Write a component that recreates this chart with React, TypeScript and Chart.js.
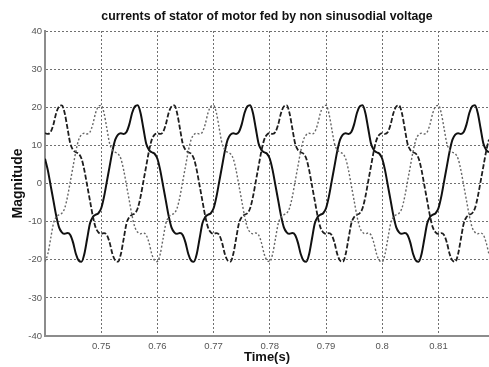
import { useEffect, useRef } from "react";
import { Chart, registerables } from "chart.js";

Chart.register(...registerables);

const TITLE = "currents of stator of motor fed by non sinusodial voltage";
const X_LABEL = "Time(s)";
const Y_LABEL = "Magnitude";

// sampling grid of the recorded currents (s)
const T_START = 0.74;
const T_STEP = 0.0005;

const X_MIN = 0.74;
const X_MAX = 0.819;
const X_TICKS = [0.75, 0.76, 0.77, 0.78, 0.79, 0.8, 0.81];
const X_TICK_LABELS = ["0.75", "0.76", "0.77", "0.78", "0.79", "0.8", "0.81"];
const Y_MIN = -40;
const Y_MAX = 40;
const Y_STEP = 10;

// phase current drawn dashed
const PHASE_DASHED = [
  13.2, 13.0, 13.5, 15.5, 18.5, 20.2,
  20.5, 18.5, 14.5, 10.5, 8.8, 8.2, 7.8, 6.5, 3.5, -0.5, -4.5, -8.5, -11.5, -12.8, -13.2, -13.0, -13.5, -15.5, -18.5, -20.2,
  -20.5, -18.5, -14.5, -10.5, -8.8, -8.2, -7.8, -6.5, -3.5, 0.5, 4.5, 8.5, 11.5, 12.8, 13.2, 13.0, 13.5, 15.5, 18.5, 20.2,
  20.5, 18.5, 14.5, 10.5, 8.8, 8.2, 7.8, 6.5, 3.5, -0.5, -4.5, -8.5, -11.5, -12.8, -13.2, -13.0, -13.5, -15.5, -18.5, -20.2,
  -20.5, -18.5, -14.5, -10.5, -8.8, -8.2, -7.8, -6.5, -3.5, 0.5, 4.5, 8.5, 11.5, 12.8, 13.2, 13.0, 13.5, 15.5, 18.5, 20.2,
  20.5, 18.5, 14.5, 10.5, 8.8, 8.2, 7.8, 6.5, 3.5, -0.5, -4.5, -8.5, -11.5, -12.8, -13.2, -13.0, -13.5, -15.5, -18.5, -20.2,
  -20.5, -18.5, -14.5, -10.5, -8.8, -8.2, -7.8, -6.5, -3.5, 0.5, 4.5, 8.5, 11.5, 12.8, 13.2, 13.0, 13.5, 15.5, 18.5, 20.2,
  20.5, 18.5, 14.5, 10.5, 8.8, 8.2, 7.8, 6.5, 3.5, -0.5, -4.5, -8.5, -11.5, -12.8, -13.2, -13.0, -13.5, -15.5, -18.5, -20.2,
  -20.5, -18.5, -14.5, -10.5, -8.8, -8.2, -7.8, -6.5, -3.5, 0.5, 4.5, 8.5, 11.5, 12.8,
];

// phase current drawn dotted
const PHASE_DOTTED = [
  -20.5, -18.5, -14.5, -10.5, -8.8, -8.2, -7.8, -6.5, -3.5, 0.5, 4.5, 8.5, 11.5, 12.8, 13.2, 13.0, 13.5, 15.5, 18.5, 20.2,
  20.5, 18.5, 14.5, 10.5, 8.8, 8.2, 7.8, 6.5, 3.5, -0.5, -4.5, -8.5, -11.5, -12.8, -13.2, -13.0, -13.5, -15.5, -18.5, -20.2,
  -20.5, -18.5, -14.5, -10.5, -8.8, -8.2, -7.8, -6.5, -3.5, 0.5, 4.5, 8.5, 11.5, 12.8, 13.2, 13.0, 13.5, 15.5, 18.5, 20.2,
  20.5, 18.5, 14.5, 10.5, 8.8, 8.2, 7.8, 6.5, 3.5, -0.5, -4.5, -8.5, -11.5, -12.8, -13.2, -13.0, -13.5, -15.5, -18.5, -20.2,
  -20.5, -18.5, -14.5, -10.5, -8.8, -8.2, -7.8, -6.5, -3.5, 0.5, 4.5, 8.5, 11.5, 12.8, 13.2, 13.0, 13.5, 15.5, 18.5, 20.2,
  20.5, 18.5, 14.5, 10.5, 8.8, 8.2, 7.8, 6.5, 3.5, -0.5, -4.5, -8.5, -11.5, -12.8, -13.2, -13.0, -13.5, -15.5, -18.5, -20.2,
  -20.5, -18.5, -14.5, -10.5, -8.8, -8.2, -7.8, -6.5, -3.5, 0.5, 4.5, 8.5, 11.5, 12.8, 13.2, 13.0, 13.5, 15.5, 18.5, 20.2,
  20.5, 18.5, 14.5, 10.5, 8.8, 8.2, 7.8, 6.5, 3.5, -0.5, -4.5, -8.5, -11.5, -12.8, -13.2, -13.0, -13.5, -15.5, -18.5, -20.2,
];

// phase current drawn solid
const PHASE_SOLID = [
  6.5, 3.5, -0.5, -4.5, -8.5, -11.5, -12.8, -13.2, -13.0, -13.5, -15.5, -18.5, -20.2,
  -20.5, -18.5, -14.5, -10.5, -8.8, -8.2, -7.8, -6.5, -3.5, 0.5, 4.5, 8.5, 11.5, 12.8, 13.2, 13.0, 13.5, 15.5, 18.5, 20.2,
  20.5, 18.5, 14.5, 10.5, 8.8, 8.2, 7.8, 6.5, 3.5, -0.5, -4.5, -8.5, -11.5, -12.8, -13.2, -13.0, -13.5, -15.5, -18.5, -20.2,
  -20.5, -18.5, -14.5, -10.5, -8.8, -8.2, -7.8, -6.5, -3.5, 0.5, 4.5, 8.5, 11.5, 12.8, 13.2, 13.0, 13.5, 15.5, 18.5, 20.2,
  20.5, 18.5, 14.5, 10.5, 8.8, 8.2, 7.8, 6.5, 3.5, -0.5, -4.5, -8.5, -11.5, -12.8, -13.2, -13.0, -13.5, -15.5, -18.5, -20.2,
  -20.5, -18.5, -14.5, -10.5, -8.8, -8.2, -7.8, -6.5, -3.5, 0.5, 4.5, 8.5, 11.5, 12.8, 13.2, 13.0, 13.5, 15.5, 18.5, 20.2,
  20.5, 18.5, 14.5, 10.5, 8.8, 8.2, 7.8, 6.5, 3.5, -0.5, -4.5, -8.5, -11.5, -12.8, -13.2, -13.0, -13.5, -15.5, -18.5, -20.2,
  -20.5, -18.5, -14.5, -10.5, -8.8, -8.2, -7.8, -6.5, -3.5, 0.5, 4.5, 8.5, 11.5, 12.8, 13.2, 13.0, 13.5, 15.5, 18.5, 20.2,
  20.5, 18.5, 14.5, 10.5, 8.8, 8.2, 7.8,
];

const TIMES = PHASE_SOLID.map((_, i) => +(T_START + i * T_STEP).toFixed(4));

const FONT = "'Liberation Sans', Arial, Helvetica, sans-serif";

export default function App() {
  const ref = useRef<HTMLCanvasElement>(null);

  useEffect(() => {
    const toPoints = (vals: number[]) => vals.map((y, i) => ({ x: TIMES[i], y }));
    const common = {
      pointRadius: 0,
      pointHoverRadius: 0,
      fill: false,
      cubicInterpolationMode: "monotone" as const,
    };
    const gridColor = "#707070";
    const axisColor = "#8c8c8c";
    const chart = new Chart(ref.current!, {
      type: "line",
      data: {
        datasets: [
          {
            ...common,
            data: toPoints(PHASE_DOTTED),
            borderColor: "#666666",
            borderWidth: 1.4,
            borderDash: [2, 2],
          },
          {
            ...common,
            data: toPoints(PHASE_DASHED),
            borderColor: "#1e1e1e",
            borderWidth: 1.8,
            borderDash: [5, 2],
          },
          {
            ...common,
            data: toPoints(PHASE_SOLID),
            borderColor: "#111111",
            borderWidth: 2,
          },
        ],
      },
      options: {
        animation: false,
        responsive: false,
        devicePixelRatio: 1,
        layout: { padding: 0 },
        events: [],
        plugins: {
          legend: { display: false },
          tooltip: { enabled: false },
          title: {
            display: true,
            fullSize: false,
            text: TITLE,
            color: "#111",
            font: { family: FONT, size: 12.3, weight: "bold" },
            padding: { top: 9, bottom: 7.24 },
          },
        },
        scales: {
          x: {
            type: "linear",
            min: X_MIN,
            max: X_MAX,
            afterBuildTicks: (s: any) => {
              s.ticks = X_TICKS.map((v) => ({ value: v }));
            },
            afterFit: (s: any) => {
              s.height = 31;
            },
            ticks: {
              autoSkip: false,
              maxRotation: 0,
              padding: 5,
              color: "#555",
              font: { family: FONT, size: 9.5 },
              callback: (v: any) => {
                const idx = X_TICKS.findIndex((t) => Math.abs(t - Number(v)) < 1e-9);
                return idx >= 0 ? X_TICK_LABELS[idx] : "";
              },
            },
            grid: { color: gridColor, lineWidth: 1, drawTicks: false },
            border: { display: true, color: axisColor, width: 2, dash: [2, 2] },
            title: {
              display: true,
              text: X_LABEL,
              color: "#111",
              font: { family: FONT, size: 13, weight: "bold" },
              padding: { top: 0, bottom: 2.2 },
            },
          },
          y: {
            type: "linear",
            min: Y_MIN,
            max: Y_MAX,
            afterFit: (s: any) => {
              s.width = 45;
            },
            ticks: {
              stepSize: Y_STEP,
              padding: 3,
              color: "#555",
              font: { family: FONT, size: 9.5 },
            },
            grid: { color: gridColor, lineWidth: 1, drawTicks: false },
            border: { display: true, color: axisColor, width: 2, dash: [2, 2] },
            title: {
              display: true,
              text: Y_LABEL,
              color: "#111",
              font: { family: FONT, size: 14, weight: "bold" },
              padding: { top: 9.6, bottom: 0 },
            },
          },
        },
      },
    });
    return () => chart.destroy();
  }, []);

  return (
    <div
      style={{
        position: "fixed",
        left: 0,
        top: 0,
        width: 489,
        height: 367,
        background: "#fff",
      }}
    >
      <canvas ref={ref} width={489} height={367} style={{ display: "block" }} />
    </div>
  );
}
